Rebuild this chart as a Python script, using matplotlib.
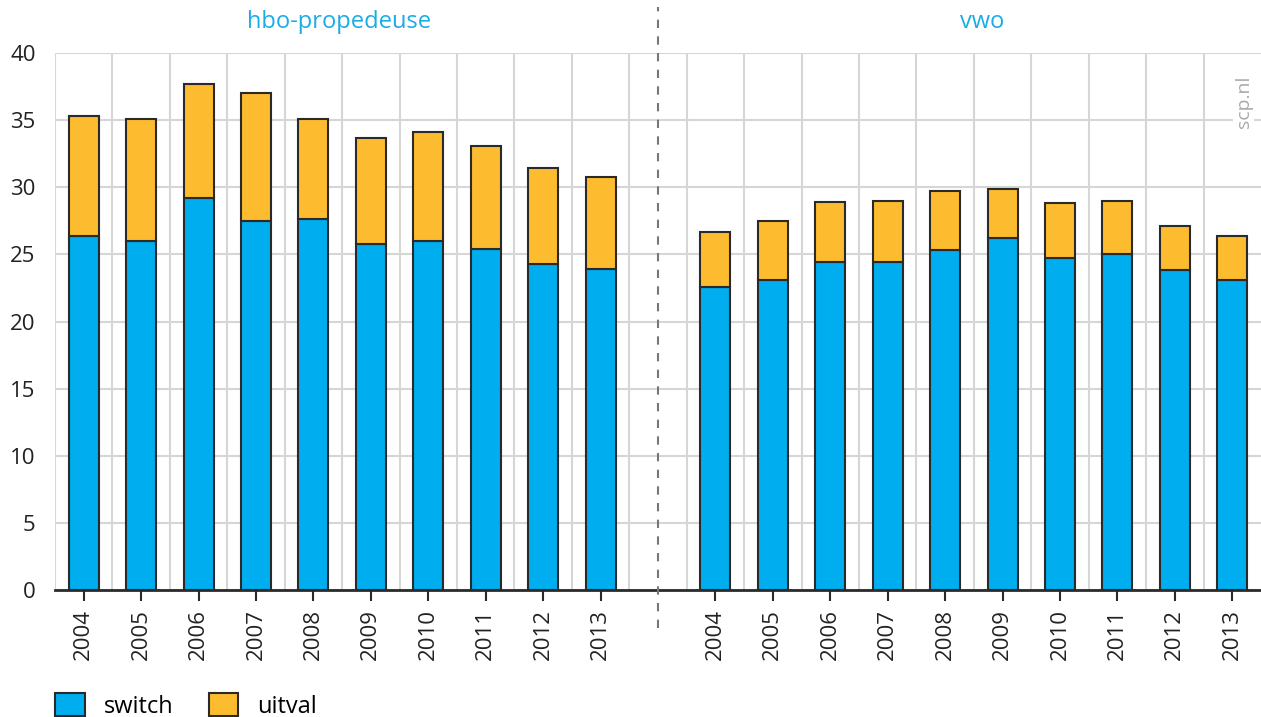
import matplotlib.pyplot as plt
import numpy as np

plt.rcParams['font.family'] = ['Open Sans', 'DejaVu Sans']

years = ['2004', '2005', '2006', '2007', '2008', '2009', '2010', '2011', '2012', '2013']
groups = ['hbo-propedeuse', 'vwo']

hbo_switch = [26.4, 26.0, 29.2, 27.5, 27.6, 25.8, 26.0, 25.4, 24.3, 23.9]
hbo_uitval = [8.9, 9.1, 8.5, 9.5, 7.5, 7.9, 8.1, 7.7, 7.1, 6.9]
vwo_switch = [22.6, 23.1, 24.4, 24.4, 25.3, 26.2, 24.7, 25.0, 23.8, 23.1]
vwo_uitval = [4.1, 4.4, 4.5, 4.6, 4.4, 3.7, 4.1, 4.0, 3.3, 3.3]

blue = '#00adee'
orange = '#fdbb2f'
edge = '#2a2a2a'

switch = hbo_switch + vwo_switch
uitval = hbo_uitval + vwo_uitval
x = np.concatenate([np.arange(10), np.arange(11, 21)])
labels = years + years

fig = plt.figure(figsize=(12.61, 7.17), dpi=100)
ax = fig.add_axes([55/1261, 1 - 590/717, 1206/1261, 537/717])

ax.bar(x, switch, width=0.52, color=blue, edgecolor=edge, linewidth=1.5, label='switch', zorder=3)
ax.bar(x, uitval, width=0.52, bottom=switch, color=orange, edgecolor=edge, linewidth=1.5, label='uitval', zorder=3)

ax.set_xlim(-0.5, 20.5)
ax.set_ylim(0, 40)
ax.set_yticks(range(0, 41, 5))
ax.set_xticks(x)
ax.set_xticklabels(labels, rotation=90, fontsize=16, color='#222222')
ax.set_xticks(np.arange(0.5, 20.5, 1), minor=True)
ax.grid(True, which='minor', axis='x', color='#d6d6d6', linewidth=1.5, zorder=0)
ax.grid(True, which='major', axis='y', color='#d6d6d6', linewidth=1.5, zorder=0)
ax.axvline(-0.5, color='#d6d6d6', linewidth=1.5, zorder=0)
ax.tick_params(axis='x', which='major', length=8, width=1.5, color=edge, pad=6)
ax.tick_params(axis='x', which='minor', length=0)
ax.tick_params(axis='y', length=0, labelsize=16, labelcolor='#222222', pad=14)
for s in ['left', 'right', 'top']:
    ax.spines[s].set_visible(False)
ax.spines['bottom'].set_color(edge)
ax.spines['bottom'].set_linewidth(2)
ax.spines['bottom'].set_zorder(4)

# dashed separator between the two groups
ax.plot([10, 10], [-2.8, 43.4], color='#777777', linestyle=(0, (4, 4)), linewidth=1.5, clip_on=False, zorder=5)

ax.text(4.45, 42.3, groups[0], ha='center', va='center', fontsize=17, color='#1aace6')
ax.text(15.65, 42.3, groups[1], ha='center', va='center', fontsize=17, color='#1aace6')
ax.text(20.2, 36.4, 'scp.nl', rotation=90, ha='center', va='center', fontsize=14, color='#aaaaaa',
        bbox=dict(facecolor='white', edgecolor='none', pad=1), zorder=6)

fig.legend(loc='lower left', bbox_to_anchor=(34/1261, -0.032), ncol=2, frameon=False, fontsize=17,
           handlelength=1.25, handleheight=1.1, columnspacing=1.5, handletextpad=0.8)

plt.savefig('out.png', dpi=100)
